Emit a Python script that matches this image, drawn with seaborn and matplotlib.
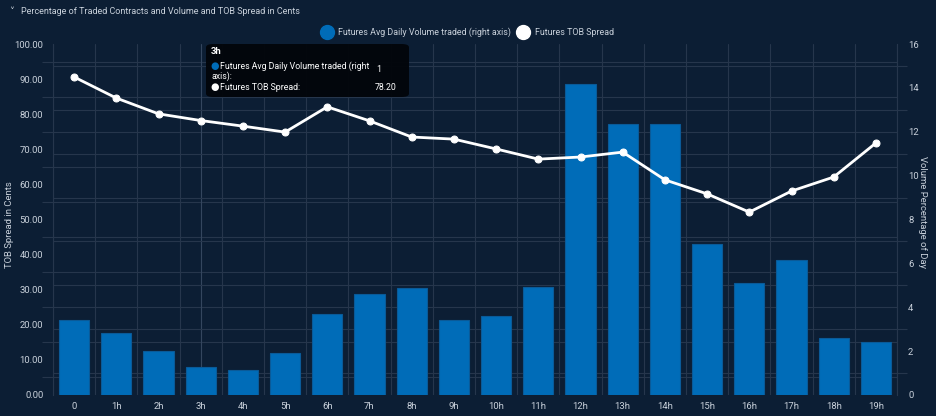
import numpy as np
import matplotlib
matplotlib.use("Agg")
import matplotlib.pyplot as plt
import seaborn as sns
from matplotlib.lines import Line2D
from matplotlib.patches import FancyBboxPatch

# data
hours = ['0', '1h', '2h', '3h', '4h', '5h', '6h', '7h', '8h', '9h',
         '10h', '11h', '12h', '13h', '14h', '15h', '16h', '17h', '18h', '19h']
volume_pct = [3.42, 2.83, 2.0, 1.28, 1.14, 1.91, 3.69, 4.6, 4.88, 3.42,
              3.6, 4.92, 14.17, 12.35, 12.35, 6.88, 5.1, 6.15, 2.6, 2.42]
tob_spread = [90.6, 84.6, 80.1, 78.2, 76.6, 74.9, 82.1, 78.1, 73.5, 72.9,
              70.1, 67.2, 67.8, 69.2, 61.3, 57.3, 52.1, 58.1, 62.1, 71.8]
left_ticks = [0, 10, 20, 30, 40, 50, 60, 70, 80, 90, 100]
left_grid = [5, 15, 25, 35, 45, 55, 65, 75, 85, 95]
right_ticks = [0, 2, 4, 6, 8, 10, 12, 14, 16]
right_grid = [1, 3, 5, 7, 9, 11, 13, 15]

bg = '#0c1e34'
grid_c = '#26364c'
txt_c = '#c9d1db'
bar_c = '#006cb8'
bar_edge = '#0a5a98'

sns.set_style('dark')
plt.rcParams['font.family'] = ['Roboto', 'DejaVu Sans']

fig = plt.figure(figsize=(9.36, 4.16), dpi=100, facecolor=bg)
ax = fig.add_axes([53/936, 21/416, 844/936, 351/416])
ax.set_facecolor(bg)
ax2 = ax.twinx()
ax3 = ax.twinx()
for a in (ax2, ax3):
    a.patch.set_visible(False)

# left scale: labels on major ticks, grid on the in-between ticks
ax.set_ylim(0, 100)
ax.set_yticks(left_ticks)
ax.set_yticklabels([f'{v:.2f}' for v in left_ticks])
ax.set_yticks(left_grid, minor=True)
ax.grid(axis='y', which='minor', color=grid_c, linewidth=0.8)
ax.grid(axis='y', which='major', visible=False)
ax.tick_params(axis='y', which='major', length=0, labelcolor=txt_c, labelsize=6.8, pad=7)
ax.tick_params(axis='y', which='minor', length=8, width=0.8, colors=grid_c)
ax.set_ylabel('TOB Spread in Cents', color=txt_c, fontsize=6.8)
ax.yaxis.set_label_coords(-39/844, 0.485)

# bars on the right scale
sns.barplot(x=hours, y=volume_pct, ax=ax2, color=bar_c, width=0.72,
            edgecolor=bar_edge, linewidth=0.8, saturation=1)
ax2.set_axisbelow(True)
ax2.set_ylim(0, 16)
ax2.set_yticks(right_ticks)
ax2.set_yticks(right_grid, minor=True)
ax2.grid(axis='y', which='minor', color=grid_c, linewidth=0.8)
ax2.grid(axis='y', which='major', visible=False)
ax2.tick_params(axis='y', which='major', length=0, labelcolor=txt_c, labelsize=6.8, pad=8)
ax2.tick_params(axis='y', which='minor', length=7, width=0.8, colors=grid_c)
ax2.set_ylabel('Volume Percentage of Day', color=txt_c, fontsize=6.8, rotation=270, va='center')
ax2.yaxis.set_label_coords(1 + 25/844, 0.52)

# x axis: labels at centres, grid at category boundaries
ax.set_xlim(-0.5, len(hours) - 0.5)
ax.set_xticks(np.arange(len(hours)))
ax.set_xticklabels(hours)
ax.set_xticks(np.arange(len(hours) + 1) - 0.5, minor=True)
ax.tick_params(axis='x', which='major', length=0, labelcolor=txt_c, labelsize=6.8, pad=5)
ax.tick_params(axis='x', which='minor', length=8, width=0.8, colors=grid_c)
ax.grid(axis='x', which='minor', color=grid_c, linewidth=0.8)
ax.grid(axis='x', which='major', visible=False)
ax2.set_xlabel('')
ax2.tick_params(axis='x', length=0, labelbottom=False)

# crosshair at 3h
ax.axvline(3, color='#34465e', linewidth=0.8)

# spread line on top
sns.lineplot(x=np.arange(len(hours)), y=tob_spread, ax=ax3, color='white',
             linewidth=2, marker='o', markersize=5, markeredgecolor='white')
ax3.set_ylim(0, 100)
ax3.set_yticks([])
ax3.set_xlim(-0.5, len(hours) - 0.5)

for a in (ax, ax2, ax3):
    for s in a.spines.values():
        s.set_visible(False)
ax2.spines['left'].set_visible(True)
ax2.spines['right'].set_visible(True)
ax2.spines['left'].set_color(grid_c)
ax2.spines['right'].set_color(grid_c)

# title and legend
fig.text(9/936, 1 - 12/416, '˅', color=txt_c, fontsize=7, va='center')
fig.text(21/936, 1 - 12/416, 'Percentage of Traded Contracts and Volume and TOB Spread in Cents',
         color=txt_c, fontsize=6.5, va='center')
handles = [Line2D([], [], marker='o', linestyle='', markersize=10, color=bar_c),
           Line2D([], [], marker='o', linestyle='', markersize=10, color='white')]
fig.legend(handles, ['Futures Avg Daily Volume traded (right axis)', 'Futures TOB Spread'],
           loc='center', bbox_to_anchor=(468/936, 1 - 32/416), ncol=2, frameon=False,
           fontsize=6.4, labelcolor=txt_c, handletextpad=0.8, columnspacing=0.9,
           handlelength=1.0)

# tooltip
box = FancyBboxPatch((206/936, 1 - 97/416), 203/936, 53/416, transform=fig.transFigure,
                     boxstyle='round,pad=0,rounding_size=0.008', facecolor='#02050a',
                     edgecolor='none', alpha=0.95, zorder=10)
fig.patches.append(box)
fig.text(211/936, 1 - 52/416, '3h', color='white', fontsize=6.8, fontweight='bold', va='center', zorder=11)
fig.text(215/936, 1 - 66/416, '●', color=bar_c, fontsize=7, ha='center', va='center', zorder=11)
fig.text(220/936, 1 - 66/416, 'Futures Avg Daily Volume traded (right', color='white', fontsize=6.3, va='center', zorder=11)
fig.text(211/936, 1 - 76/416, 'axis):', color='white', fontsize=6.3, va='center', zorder=11)
fig.text(376/936, 1 - 70/416, '1', color='white', fontsize=6.3, va='center', zorder=11)
fig.text(215/936, 1 - 87/416, '●', color='white', fontsize=7, ha='center', va='center', zorder=11)
fig.text(220/936, 1 - 87/416, 'Futures TOB Spread:', color='white', fontsize=6.3, va='center', zorder=11)
fig.text(375/936, 1 - 87/416, '78.20', color='white', fontsize=6.3, va='center', zorder=11)

fig.savefig('out.png', dpi=100, facecolor=bg)
